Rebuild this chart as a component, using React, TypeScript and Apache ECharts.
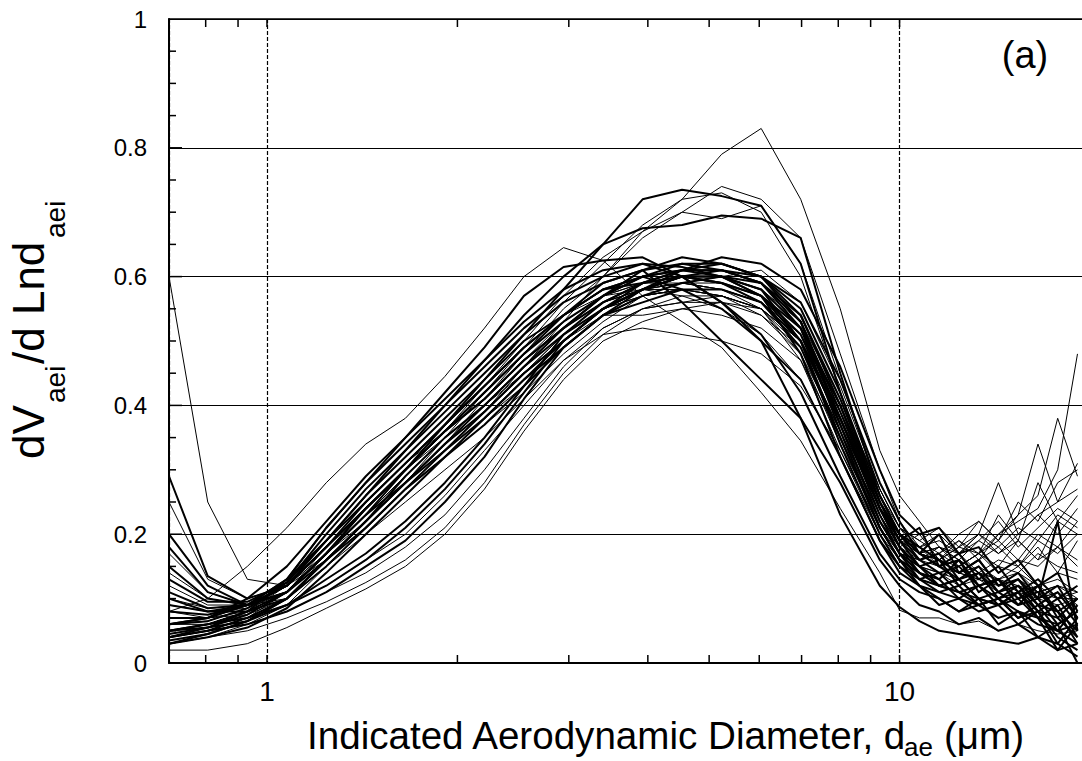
import React, { useEffect, useRef } from "react";
import * as echarts from "echarts";

// Indicated aerodynamic diameter (um) at which each profile is sampled
const diameters = [0.7, 0.806, 0.931, 1.075, 1.241, 1.433, 1.655, 1.911, 2.207, 2.548, 2.943, 3.398, 3.924, 4.531, 5.233, 6.043, 6.978, 8.058, 9.306, 10.0, 10.75, 11.55, 12.41, 13.34, 14.33, 15.4, 16.55, 17.78, 19.11];

// Thick profiles
const A1 = [0.04, 0.055, 0.08, 0.13, 0.21, 0.28, 0.34, 0.40, 0.46, 0.52, 0.57, 0.60, 0.62, 0.615, 0.60, 0.57, 0.48, 0.32, 0.19, 0.15, 0.13, 0.11, 0.12, 0.09, 0.10, 0.07, 0.09, 0.05, 0.03];
const A3 = [0.29, 0.135, 0.10, 0.12, 0.18, 0.24, 0.30, 0.36, 0.42, 0.48, 0.54, 0.59, 0.61, 0.62, 0.62, 0.60, 0.54, 0.40, 0.24, 0.18, 0.15, 0.13, 0.16, 0.11, 0.13, 0.09, 0.12, 0.07, 0.10];
const A5 = [0.20, 0.12, 0.09, 0.11, 0.17, 0.24, 0.30, 0.36, 0.41, 0.47, 0.52, 0.57, 0.60, 0.61, 0.60, 0.57, 0.50, 0.35, 0.21, 0.16, 0.12, 0.10, 0.08, 0.10, 0.06, 0.08, 0.04, 0.06, 0.0];
const A7 = [0.04, 0.05, 0.07, 0.10, 0.16, 0.22, 0.29, 0.35, 0.40, 0.46, 0.51, 0.55, 0.58, 0.60, 0.61, 0.60, 0.55, 0.42, 0.26, 0.20, 0.17, 0.20, 0.14, 0.16, 0.12, 0.14, 0.10, 0.22, 0.05];
const A9 = [0.03, 0.045, 0.065, 0.10, 0.15, 0.21, 0.27, 0.32, 0.37, 0.43, 0.49, 0.54, 0.58, 0.61, 0.63, 0.62, 0.58, 0.46, 0.30, 0.23, 0.20, 0.21, 0.17, 0.18, 0.14, 0.16, 0.12, 0.14, 0.08];
const A11 = [0.10, 0.08, 0.08, 0.10, 0.16, 0.22, 0.28, 0.33, 0.38, 0.44, 0.49, 0.54, 0.57, 0.59, 0.60, 0.59, 0.53, 0.38, 0.23, 0.17, 0.14, 0.13, 0.10, 0.12, 0.09, 0.10, 0.07, 0.02, 0.06];
const A13 = [0.07, 0.07, 0.09, 0.13, 0.21, 0.28, 0.35, 0.41, 0.47, 0.53, 0.58, 0.61, 0.62, 0.60, 0.56, 0.50, 0.38, 0.23, 0.12, 0.087, 0.065, 0.05, 0.045, 0.04, 0.035, 0.03, 0.04, 0.02, 0.03];
const A15 = [0.15, 0.10, 0.09, 0.11, 0.17, 0.24, 0.30, 0.36, 0.41, 0.47, 0.52, 0.57, 0.61, 0.63, 0.62, 0.60, 0.53, 0.37, 0.22, 0.17, 0.13, 0.14, 0.11, 0.12, 0.10, 0.11, 0.08, 0.10, 0.06];
const A17 = [0.06, 0.065, 0.085, 0.125, 0.20, 0.27, 0.33, 0.39, 0.45, 0.51, 0.56, 0.59, 0.61, 0.56, 0.50, 0.44, 0.38, 0.28, 0.16, 0.12, 0.09, 0.08, 0.06, 0.07, 0.05, 0.06, 0.04, 0.03, 0.01];
const A18 = [0.08, 0.075, 0.09, 0.12, 0.19, 0.25, 0.31, 0.37, 0.43, 0.49, 0.54, 0.58, 0.60, 0.58, 0.55, 0.50, 0.44, 0.32, 0.19, 0.14, 0.12, 0.09, 0.10, 0.08, 0.09, 0.06, 0.08, 0.03, 0.07];
const A19 = [0.11, 0.085, 0.09, 0.12, 0.18, 0.24, 0.30, 0.36, 0.42, 0.48, 0.53, 0.57, 0.60, 0.62, 0.61, 0.59, 0.52, 0.36, 0.21, 0.16, 0.14, 0.12, 0.13, 0.10, 0.11, 0.09, 0.10, 0.06, 0.08];
const A20 = [0.035, 0.045, 0.065, 0.10, 0.16, 0.21, 0.27, 0.33, 0.39, 0.45, 0.50, 0.55, 0.59, 0.61, 0.62, 0.60, 0.56, 0.44, 0.28, 0.22, 0.17, 0.15, 0.13, 0.14, 0.11, 0.12, 0.09, 0.11, 0.07];
const A21 = [0.13, 0.095, 0.095, 0.125, 0.19, 0.26, 0.32, 0.38, 0.44, 0.50, 0.54, 0.58, 0.59, 0.60, 0.59, 0.57, 0.51, 0.37, 0.22, 0.17, 0.15, 0.16, 0.12, 0.14, 0.10, 0.12, 0.08, 0.07, 0.04];
const A22 = [0.045, 0.055, 0.075, 0.11, 0.17, 0.23, 0.28, 0.34, 0.39, 0.45, 0.50, 0.55, 0.58, 0.60, 0.60, 0.58, 0.50, 0.34, 0.20, 0.15, 0.12, 0.11, 0.10, 0.09, 0.10, 0.08, 0.07, 0.05, 0.09];
const A25 = [0.06, 0.07, 0.10, 0.15, 0.22, 0.29, 0.35, 0.42, 0.49, 0.57, 0.615, 0.625, 0.63, 0.60, 0.56, 0.51, 0.42, 0.29, 0.17, 0.13, 0.11, 0.10, 0.08, 0.09, 0.07, 0.08, 0.06, 0.05, 0.06];
const B1 = [0.04, 0.05, 0.06, 0.08, 0.11, 0.15, 0.19, 0.25, 0.32, 0.41, 0.49, 0.54, 0.56, 0.58, 0.58, 0.56, 0.50, 0.38, 0.24, 0.20, 0.17, 0.15, 0.16, 0.12, 0.13, 0.10, 0.12, 0.08, 0.10];
const B3 = [0.05, 0.055, 0.065, 0.09, 0.12, 0.16, 0.21, 0.27, 0.34, 0.42, 0.50, 0.55, 0.58, 0.60, 0.60, 0.58, 0.52, 0.38, 0.24, 0.19, 0.15, 0.12, 0.11, 0.10, 0.09, 0.11, 0.07, 0.09, 0.04];
const C1 = [0.05, 0.06, 0.08, 0.11, 0.17, 0.23, 0.30, 0.37, 0.44, 0.51, 0.58, 0.65, 0.72, 0.735, 0.725, 0.71, 0.62, 0.42, 0.25, 0.19, 0.21, 0.15, 0.17, 0.13, 0.15, 0.11, 0.13, 0.10, 0.12];
const C2 = [0.06, 0.07, 0.09, 0.13, 0.19, 0.26, 0.33, 0.40, 0.47, 0.54, 0.60, 0.65, 0.675, 0.68, 0.695, 0.69, 0.66, 0.45, 0.26, 0.20, 0.18, 0.16, 0.14, 0.16, 0.12, 0.13, 0.10, 0.12, 0.07];
const F1 = [0.09, 0.08, 0.09, 0.12, 0.18, 0.25, 0.31, 0.37, 0.43, 0.49, 0.54, 0.58, 0.60, 0.61, 0.61, 0.59, 0.54, 0.41, 0.25, 0.19, 0.16, 0.14, 0.15, 0.12, 0.13, 0.10, 0.11, 0.08, 0.05];
const F2 = [0.05, 0.06, 0.07, 0.09, 0.13, 0.17, 0.22, 0.28, 0.35, 0.43, 0.51, 0.56, 0.59, 0.61, 0.61, 0.59, 0.53, 0.39, 0.24, 0.18, 0.14, 0.12, 0.13, 0.10, 0.09, 0.11, 0.07, 0.06, 0.08];
const F3 = [0.18, 0.11, 0.09, 0.11, 0.16, 0.22, 0.28, 0.34, 0.40, 0.46, 0.52, 0.56, 0.59, 0.60, 0.59, 0.57, 0.52, 0.40, 0.25, 0.20, 0.16, 0.17, 0.13, 0.15, 0.11, 0.13, 0.09, 0.08, 0.03];
const F4 = [0.03, 0.04, 0.055, 0.085, 0.14, 0.20, 0.26, 0.32, 0.38, 0.44, 0.50, 0.55, 0.58, 0.60, 0.59, 0.56, 0.49, 0.35, 0.21, 0.16, 0.13, 0.12, 0.11, 0.09, 0.10, 0.07, 0.08, 0.04, 0.02];

// Thin profiles
const A2 = [0.06, 0.065, 0.085, 0.12, 0.19, 0.25, 0.31, 0.36, 0.41, 0.47, 0.53, 0.57, 0.59, 0.60, 0.59, 0.56, 0.50, 0.37, 0.24, 0.19, 0.17, 0.16, 0.15, 0.17, 0.14, 0.16, 0.15, 0.18, 0.16];
const A4 = [0.25, 0.13, 0.10, 0.12, 0.17, 0.23, 0.29, 0.35, 0.40, 0.45, 0.51, 0.56, 0.59, 0.60, 0.60, 0.58, 0.52, 0.38, 0.23, 0.18, 0.20, 0.16, 0.18, 0.22, 0.19, 0.25, 0.22, 0.28, 0.30];
const A6 = [0.17, 0.11, 0.09, 0.10, 0.15, 0.21, 0.27, 0.33, 0.38, 0.43, 0.49, 0.54, 0.57, 0.58, 0.58, 0.56, 0.51, 0.40, 0.26, 0.20, 0.17, 0.18, 0.16, 0.19, 0.17, 0.20, 0.23, 0.20, 0.24];
const A8 = [0.05, 0.06, 0.08, 0.11, 0.18, 0.24, 0.30, 0.35, 0.40, 0.46, 0.52, 0.56, 0.58, 0.57, 0.55, 0.51, 0.44, 0.32, 0.20, 0.16, 0.14, 0.13, 0.15, 0.12, 0.13, 0.11, 0.12, 0.10, 0.11];
const A10 = [0.12, 0.09, 0.09, 0.11, 0.16, 0.22, 0.28, 0.34, 0.39, 0.45, 0.50, 0.55, 0.58, 0.59, 0.58, 0.55, 0.47, 0.33, 0.21, 0.17, 0.16, 0.18, 0.17, 0.20, 0.28, 0.20, 0.23, 0.25, 0.27];
const A12 = [0.08, 0.07, 0.075, 0.10, 0.16, 0.22, 0.28, 0.34, 0.39, 0.45, 0.51, 0.56, 0.59, 0.60, 0.60, 0.58, 0.53, 0.41, 0.27, 0.21, 0.18, 0.15, 0.14, 0.13, 0.15, 0.14, 0.17, 0.15, 0.14];
const A14 = [0.04, 0.05, 0.07, 0.11, 0.17, 0.23, 0.29, 0.35, 0.40, 0.46, 0.52, 0.56, 0.58, 0.59, 0.58, 0.56, 0.50, 0.39, 0.26, 0.21, 0.17, 0.16, 0.18, 0.17, 0.20, 0.23, 0.26, 0.38, 0.29];
const A16 = [0.03, 0.04, 0.06, 0.09, 0.15, 0.21, 0.27, 0.32, 0.37, 0.43, 0.49, 0.54, 0.57, 0.58, 0.57, 0.54, 0.48, 0.36, 0.23, 0.18, 0.15, 0.16, 0.14, 0.16, 0.18, 0.15, 0.19, 0.17, 0.20];
const A23 = [0.09, 0.08, 0.085, 0.11, 0.17, 0.23, 0.29, 0.35, 0.40, 0.46, 0.52, 0.56, 0.58, 0.58, 0.57, 0.55, 0.49, 0.36, 0.22, 0.17, 0.16, 0.15, 0.17, 0.14, 0.16, 0.15, 0.18, 0.14, 0.19];
const A24 = [0.07, 0.07, 0.08, 0.10, 0.15, 0.21, 0.27, 0.32, 0.37, 0.42, 0.48, 0.53, 0.57, 0.59, 0.59, 0.57, 0.52, 0.40, 0.25, 0.19, 0.17, 0.18, 0.15, 0.17, 0.15, 0.19, 0.16, 0.22, 0.20];
const B2 = [0.03, 0.04, 0.05, 0.07, 0.095, 0.125, 0.16, 0.21, 0.28, 0.37, 0.45, 0.51, 0.55, 0.56, 0.57, 0.55, 0.50, 0.37, 0.24, 0.19, 0.16, 0.17, 0.15, 0.17, 0.19, 0.16, 0.20, 0.18, 0.22];
const B4 = [0.02, 0.02, 0.03, 0.055, 0.085, 0.115, 0.15, 0.20, 0.27, 0.36, 0.44, 0.50, 0.53, 0.55, 0.56, 0.55, 0.50, 0.38, 0.25, 0.20, 0.17, 0.15, 0.16, 0.14, 0.13, 0.15, 0.12, 0.14, 0.13];
const B5 = [0.06, 0.06, 0.07, 0.09, 0.12, 0.16, 0.20, 0.26, 0.33, 0.40, 0.47, 0.52, 0.55, 0.56, 0.56, 0.54, 0.49, 0.36, 0.23, 0.18, 0.15, 0.14, 0.12, 0.13, 0.11, 0.12, 0.10, 0.11, 0.09];
const C3 = [0.05, 0.06, 0.08, 0.11, 0.16, 0.22, 0.28, 0.34, 0.41, 0.48, 0.55, 0.60, 0.67, 0.72, 0.79, 0.83, 0.72, 0.55, 0.33, 0.26, 0.22, 0.18, 0.16, 0.14, 0.13, 0.12, 0.11, 0.10, 0.10];
const C4 = [0.04, 0.05, 0.07, 0.10, 0.15, 0.21, 0.27, 0.33, 0.39, 0.46, 0.53, 0.60, 0.66, 0.70, 0.74, 0.72, 0.66, 0.48, 0.30, 0.22, 0.18, 0.16, 0.14, 0.15, 0.13, 0.14, 0.12, 0.13, 0.11];
const C5 = [0.06, 0.065, 0.085, 0.12, 0.18, 0.24, 0.30, 0.36, 0.43, 0.50, 0.57, 0.63, 0.67, 0.70, 0.69, 0.71, 0.62, 0.44, 0.27, 0.21, 0.19, 0.17, 0.20, 0.22, 0.19, 0.23, 0.34, 0.25, 0.31];
const C6 = [0.05, 0.06, 0.075, 0.11, 0.16, 0.22, 0.28, 0.35, 0.42, 0.49, 0.56, 0.62, 0.68, 0.72, 0.73, 0.70, 0.60, 0.42, 0.25, 0.20, 0.17, 0.16, 0.14, 0.13, 0.12, 0.14, 0.11, 0.12, 0.10];
const D1 = [0.04, 0.05, 0.07, 0.10, 0.15, 0.20, 0.25, 0.30, 0.35, 0.41, 0.47, 0.51, 0.52, 0.51, 0.50, 0.48, 0.43, 0.33, 0.20, 0.15, 0.13, 0.12, 0.11, 0.12, 0.10, 0.11, 0.10, 0.09, 0.10];
const D2 = [0.05, 0.06, 0.08, 0.11, 0.17, 0.22, 0.28, 0.33, 0.39, 0.45, 0.50, 0.54, 0.54, 0.55, 0.54, 0.52, 0.47, 0.35, 0.22, 0.17, 0.15, 0.14, 0.13, 0.14, 0.12, 0.13, 0.11, 0.12, 0.11];
const E1 = [0.60, 0.25, 0.13, 0.12, 0.16, 0.21, 0.27, 0.32, 0.38, 0.44, 0.50, 0.55, 0.57, 0.58, 0.57, 0.55, 0.48, 0.34, 0.22, 0.18, 0.16, 0.17, 0.19, 0.16, 0.20, 0.22, 0.24, 0.30, 0.48];
const E2 = [0.08, 0.10, 0.15, 0.21, 0.28, 0.34, 0.38, 0.445, 0.52, 0.60, 0.645, 0.625, 0.57, 0.53, 0.49, 0.42, 0.345, 0.24, 0.14, 0.082, 0.07, 0.07, 0.06, 0.065, 0.05, 0.06, 0.05, 0.045, 0.05];
const F5 = [0.10, 0.085, 0.09, 0.12, 0.18, 0.24, 0.30, 0.36, 0.42, 0.48, 0.53, 0.57, 0.59, 0.59, 0.58, 0.56, 0.50, 0.38, 0.24, 0.19, 0.18, 0.20, 0.17, 0.19, 0.22, 0.18, 0.21, 0.24, 0.22];
const F6 = [0.04, 0.05, 0.06, 0.08, 0.11, 0.14, 0.18, 0.23, 0.30, 0.38, 0.46, 0.52, 0.55, 0.57, 0.57, 0.55, 0.50, 0.38, 0.25, 0.20, 0.18, 0.19, 0.17, 0.20, 0.18, 0.21, 0.19, 0.23, 0.21];
const F7 = [0.14, 0.10, 0.09, 0.11, 0.16, 0.22, 0.28, 0.34, 0.40, 0.46, 0.51, 0.55, 0.57, 0.58, 0.58, 0.56, 0.51, 0.39, 0.25, 0.20, 0.18, 0.16, 0.19, 0.17, 0.23, 0.19, 0.28, 0.22, 0.26];
const F8 = [0.05, 0.06, 0.08, 0.12, 0.18, 0.25, 0.31, 0.37, 0.43, 0.49, 0.54, 0.57, 0.58, 0.59, 0.60, 0.61, 0.56, 0.43, 0.27, 0.21, 0.19, 0.21, 0.18, 0.20, 0.17, 0.19, 0.16, 0.18, 0.15];

const thickProfiles = [A1, A3, A5, A7, A9, A11, A13, A15, A17, A18, A19, A20, A21, A22, A25, B1, B3, C1, C2, F1, F2, F3, F4];
const thinProfiles = [A2, A4, A6, A8, A10, A12, A14, A16, A23, A24, B2, B4, B5, C3, C4, C5, C6, D1, D2, E1, E2, F5, F6, F7, F8];

const xAxisMin = 0.7;
const xAxisMax = 20;
const xTickValues = [0.8, 0.9, 1, 2, 3, 4, 5, 6, 7, 8, 9, 10];
const xLabelValues = [1, 10];
const yAxisMin = 0;
const yAxisMax = 1;
const yInterval = 0.2;
const yMinorTickValues = [0.05, 0.1, 0.15, 0.25, 0.3, 0.35, 0.45, 0.5, 0.55, 0.65, 0.7, 0.75, 0.85, 0.9, 0.95];
const yMajorTickValues = [0.2, 0.4, 0.6, 0.8];

const FONT = "'Liberation Sans', Arial, Helvetica, sans-serif";

function txt(text: string, x: number, y: number, size: number, align = "left", rotation = 0) {
  return {
    type: "text",
    x,
    y,
    rotation,
    silent: true,
    z: 10,
    style: {
      text,
      fill: "#000",
      fontSize: size,
      fontFamily: FONT,
      align,
      verticalAlign: "middle",
      textAlign: align,
      textVerticalAlign: "middle",
    },
  };
}

function seg(x1: number, y1: number, x2: number, y2: number) {
  return { type: "line", silent: true, z: 10, shape: { x1, y1, x2, y2 }, style: { stroke: "#000", lineWidth: 1.5 } };
}

export default function App() {
  const ref = useRef<HTMLDivElement>(null);
  useEffect(() => {
    if (!ref.current) return;
    const chart = echarts.init(ref.current, undefined, { renderer: "svg" });
    const toSeries = (vals: number[], width: number) => ({
      type: "line",
      xAxisIndex: 0,
      yAxisIndex: 0,
      data: diameters.map((d, i) => [d, vals[i]]),
      symbol: "none",
      showSymbol: false,
      silent: true,
      lineStyle: { color: "#000", width, join: "round" },
      z: 3,
    });
    chart.setOption({
      animation: false,
      backgroundColor: "#fff",
      textStyle: { fontFamily: FONT },
      grid: { left: 169, right: 10, top: 19, bottom: 98, containLabel: false },
      xAxis: [
        {
          type: "log",
          logBase: 10,
          min: xAxisMin,
          max: xAxisMax,
          position: "bottom",
          axisLine: { show: true, lineStyle: { color: "#000", width: 2 } },
          axisTick: { show: false },
          minorTick: { show: false },
          axisLabel: {
            color: "#000",
            fontSize: 28,
            fontFamily: FONT,
            margin: 14,
            formatter: (v: number) => {
              for (const l of xLabelValues) if (Math.abs(v - l) < 1e-6 * l) return String(l);
              return "";
            },
          },
          splitLine: { show: true, lineStyle: { color: "#000", width: 1.2, type: [4, 2] } },
        },
        {
          type: "log",
          logBase: 10,
          min: xAxisMin,
          max: xAxisMax,
          position: "top",
          axisLine: { show: true, lineStyle: { color: "#000", width: 1.5 } },
          axisTick: { show: false },
          axisLabel: { show: false },
          splitLine: { show: false },
        },
      ],
      yAxis: {
        type: "value",
        min: yAxisMin,
        max: yAxisMax,
        interval: yInterval,
        axisLine: { show: true, lineStyle: { color: "#000", width: 2 } },
        axisTick: { show: false },
        minorTick: { show: false },
        axisLabel: { color: "#000", fontSize: 24, fontFamily: FONT, margin: 22 },
        splitLine: { show: true, lineStyle: { color: "#000", width: 1.2 } },
      },
      series: [
        ...thinProfiles.map((p) => toSeries(p, 1)),
        ...thickProfiles.map((p) => toSeries(p, 2)),
      ],
    } as any);

    const px = (x: number, y: number) => chart.convertToPixel({ gridIndex: 0 } as any, [x, y]) as number[];
    const ticks: any[] = [];
    for (const v of xTickValues) {
      const b = px(v, yAxisMin);
      const t = px(v, yAxisMax);
      ticks.push(seg(b[0], b[1], b[0], b[1] - 8));
      ticks.push(seg(t[0], t[1], t[0], t[1] + 8));
    }
    const x0 = xAxisMin;
    for (const v of yMinorTickValues) {
      const p = px(x0, v);
      ticks.push(seg(p[0], p[1], p[0] + 7, p[1]));
    }
    for (const v of yMajorTickValues) {
      const p = px(x0, v);
      ticks.push(seg(p[0], p[1], p[0] + 13, p[1]));
    }
    const R = Math.PI / 2;
    chart.setOption({
      graphic: [
        ...ticks,
        txt("dV", 28, 459, 44, "left", R),
        txt("aei", 55, 403, 28, "left", R),
        txt("/d Lnd", 28, 364, 44, "left", R),
        txt("aei", 55, 238, 28, "left", R),
        txt("Indicated Aerodynamic Diameter, d", 307, 735, 38.6),
        txt("ae", 904, 747, 26),
        txt("(\u03bcm)", 944, 735, 38.6),
        txt("(a)", 1025, 55, 38, "center"),
      ],
    } as any);
    return () => chart.dispose();
  }, []);
  return (
    <div style={{ position: "absolute", left: 0, top: 0, width: 1082, height: 761, overflow: "hidden", background: "#fff" }}>
      <div ref={ref} style={{ width: 1100, height: 761 }} />
    </div>
  );
}
